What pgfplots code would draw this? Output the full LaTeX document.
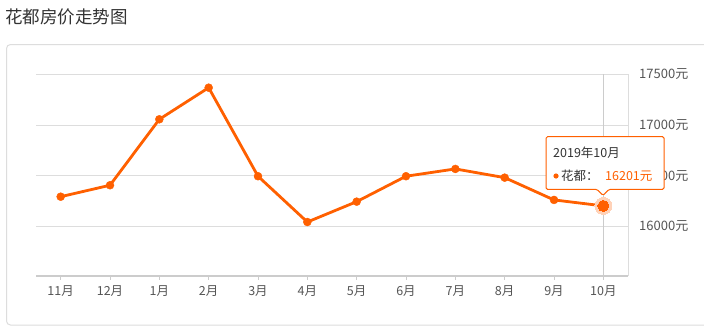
\documentclass[border=0pt]{standalone}
\usepackage{fontspec}
\setmainfont{Noto Sans CJK SC}
\usepackage{pgfplots}
\pgfplotsset{compat=1.18}
\definecolor{ora}{HTML}{FF6000}
\definecolor{halo}{HTML}{FFD2B8}
\definecolor{gridc}{HTML}{DDDDDD}
\definecolor{axc}{HTML}{CCCCCC}
\definecolor{labc}{HTML}{555555}
\definecolor{titc}{HTML}{333333}
\definecolor{boxc}{HTML}{DDDDDD}
\begin{document}
\begin{tikzpicture}[x=1bp,y=1bp]
\useasboundingbox (0,0) rectangle (704,-335);
\fill[white] (0,0) rectangle (704,-335);
\node[anchor=west, text=titc, font=\fontsize{17.5bp}{20bp}\selectfont, inner sep=0] at (5,-17) {花都房价走势图};
\draw[boxc, line width=1bp, rounded corners=4bp] (6.5,-44.5) rectangle (730,-325);
\begin{axis}[
  at={(36bp,-275.7bp)}, anchor=south west,
  scale only axis, width=592bp, height=201.4bp,
  xmin=-0.5, xmax=11.5, ymin=15512, ymax=17500,
  axis line style={draw=none},
  ymajorgrids, grid style={gridc, line width=0.8bp},
  xtick={0,...,11},
  xticklabels={11月,12月,1月,2月,3月,4月,5月,6月,7月,8月,9月,10月},
  ytick={16000,16500,17000,17500},
  yticklabels={16000元,16500元,17000元,17500元},
  scaled y ticks=false,
  tick pos=left,
  yticklabel pos=right,
  tick align=outside,
  major tick length=4bp,
  xtick style={axc, line width=0.8bp},
  ytick style={draw=none},
  x tick label style={font=\fontsize{12.5bp}{14bp}\selectfont, text=labc, inner sep=0, yshift=-6bp},
  y tick label style={font=\fontsize{13bp}{15bp}\selectfont, text=labc, inner sep=0, anchor=west, xshift=7bp},
  clip=false,
]
\draw[axc, line width=0.8bp] (axis cs:11,17500) -- ([yshift=-4bp]axis cs:11,15512);
\draw[gridc, line width=0.8bp] (rel axis cs:1,0) -- (rel axis cs:1,1);
\draw[axc, line width=2bp] (rel axis cs:0,0) -- (rel axis cs:1,0);
\addplot[ora, line width=2.8bp, mark=*, mark size=4bp, mark options={solid, line width=0.4bp, fill=ora}] coordinates {
(0,16292) (1,16405) (2,17056) (3,17368) (4,16494) (5,16042)
(6,16243) (7,16494) (8,16566) (9,16480) (10,16260) (11,16201)};
\addplot[only marks, mark=*, mark size=8.5bp, mark options={draw=halo, fill=halo, line width=0bp}] coordinates {(11,16201)};
\addplot[only marks, mark=*, mark size=5.5bp, mark options={draw=ora, fill=ora, line width=0bp}] coordinates {(11,16201)};
\end{axis}
\draw[ora, fill=white, line width=1bp, rounded corners=1.5bp] (546,-136.7) -- (664,-136.7) -- (664,-189.3) -- (609,-189.3) -- (603,-195.5) -- (597,-189.3) -- (546,-189.3) -- cycle;
\node[anchor=west, text=titc, font=\fontsize{12.5bp}{14bp}\selectfont, inner sep=0] at (553,-152.5) {2019年10月};
\fill[ora] (556,-176) circle (2.6);
\node[anchor=west, text=titc, font=\fontsize{12.5bp}{14bp}\selectfont, inner sep=0] at (561,-176) {花都：};
\node[anchor=west, text=ora, font=\fontsize{12.5bp}{14bp}\selectfont, inner sep=0] at (605,-176) {16201元};
\end{tikzpicture}
\end{document}
